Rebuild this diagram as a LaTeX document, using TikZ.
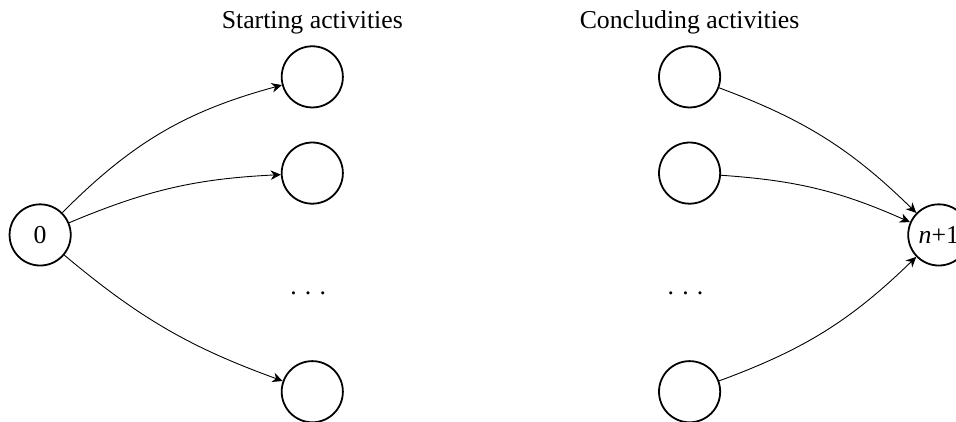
\documentclass[tikz,border=0pt]{standalone}
\usepackage{fontspec}
\setmainfont{Liberation Serif}
\usetikzlibrary{arrows.meta}
\newcommand{\gapdots}{.\kern0.32em.\kern0.32em.\kern0.32em}
\begin{document}
\begin{tikzpicture}[
    every node/.style={font=\fontsize{11.5}{14}\selectfont},
    act/.style={draw, circle, thick, minimum size=0.96cm, inner sep=0pt},
    arc/.style={-{Stealth[length=1.6mm, width=1.5mm, inset=0.5mm]}, thin}]
    %%%%% FRAME %%%%%
    \useasboundingbox (0, 0) rectangle (15.0, 6.606);

    %%%%% NODES %%%%%
    \node[act] (src) at (0.63, 2.92) {0};
    \node[act] (snk) at (14.73, 2.92) {\textit{n}+1};

    \node (slabel) at (4.90, 6.25) {Starting activities};
    \node[act] (s1) at (4.90, 5.40) {};
    \node[act] (s2) at (4.90, 3.89) {};
    \node (sdots) at (4.90, 2.01) {\gapdots};
    \node[act] (s3) at (4.90, 0.46) {};

    \node (clabel) at (10.82, 6.25) {Concluding activities};
    \node[act] (c1) at (10.82, 5.40) {};
    \node[act] (c2) at (10.82, 3.89) {};
    \node (cdots) at (10.82, 2.01) {\gapdots};
    \node[act] (c3) at (10.82, 0.46) {};

    %%%%% ARCS %%%%%
    \draw[arc] (src) to[bend left=15] (s1);
    \draw[arc] (src) to[bend left=10] (s2);
    \draw[arc] (src) to[bend right=10] (s3);

    \draw[arc] (c1) to[bend left=12] (snk);
    \draw[arc] (c2) to[bend left=10] (snk);
    \draw[arc] (c3) to[bend right=12] (snk);
\end{tikzpicture}
\end{document}
